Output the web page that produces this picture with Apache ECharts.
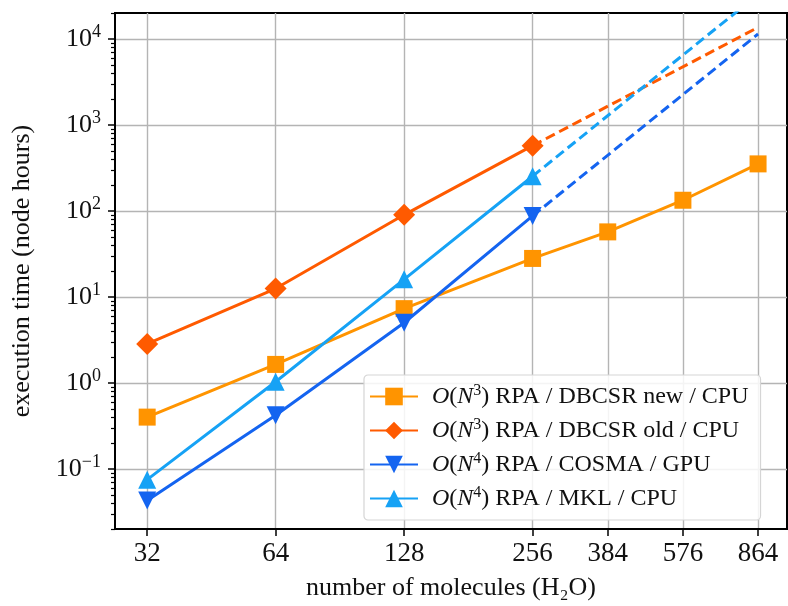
<!DOCTYPE html>
<html>
<head>
<meta charset="utf-8">
<script src="https://cdn.jsdelivr.net/npm/echarts@6/dist/echarts.min.js"></script>
<style>
  html, body { margin: 0; padding: 0; background: #fff; }
  #main { width: 788px; height: 606px; }
</style>
</head>
<body>
<div id="main"></div>
<script>
// molecules (x, log2 axis) and node hours (y, log10 axis)
var sizes = [32, 64, 128, 256, 384, 576, 864];
var dbcsrNew = [0.40, 1.64, 7.3, 28, 57, 133, 352];
var dbcsrOld = [2.84, 12.5, 90, 573];
var cosmaGpu = [0.043, 0.42, 5.0, 87.5];
var mklCpu = [0.075, 1.03, 16, 253];
// dashed extrapolation 256 -> 864
var extX = [256, 864];
var oldExt = [573, 13600];
var cosmaExt = [87.5, 11400];
var mklExt = [253, 32800];

var yMajor = [0.1, 1, 10, 100, 1000, 10000];
var yMinor = [];
for (var k = -2; k <= 4; k++) {
    for (var m = 2; m <= 9; m++) {
        var v = m * Math.pow(10, k);
        if (v >= 0.02 && v <= 20000) yMinor.push(+v.toPrecision(3));
    }
}

var names = [
    '{i|O}(' + '{i|N}{sup|3}) RPA / DBCSR new / CPU',
    '{i|O}(' + '{i|N}{sup|3}) RPA / DBCSR old / CPU',
    '{i|O}(' + '{i|N}{sup|4}) RPA / COSMA / GPU',
    '{i|O}(' + '{i|N}{sup|4}) RPA / MKL / CPU'
];
var colors = ['#ff9400', '#ff5a00', '#1464f0', '#16a2f5'];

function pairs(xs, ys) {
    return ys.map(function (y, i) { return [xs[i], y]; });
}

var font = '"Liberation Serif", "DejaVu Serif", serif';

function solid(i, data, symbol, size, rotate) {
    return {
        name: names[i],
        type: 'line',
        data: data,
        symbol: symbol,
        symbolSize: size,
        symbolRotate: rotate || 0,
        color: colors[i],
        lineStyle: { width: 3, color: colors[i] },
        itemStyle: { color: colors[i] },
        z: 3 + i
    };
}
function dashed(i, data) {
    return {
        name: 'ext' + i,
        type: 'line',
        data: data,
        symbol: 'none',
        silent: true,
        color: colors[i],
        lineStyle: { width: 3, type: [10, 5], color: colors[i] },
        z: 2
    };
}

var myChart = echarts.init(document.getElementById('main'));
var option = {
    animation: false,
    textStyle: { fontFamily: font },
    grid: {
        left: 115, right: 1, top: 13, bottom: 76,
        show: true, borderColor: '#000', borderWidth: 2, backgroundColor: 'transparent'
    },
    legend: {
        data: names,
        orient: 'vertical',
        left: 364,
        top: 375,
        itemWidth: 48,
        itemHeight: 22,
        itemGap: 7,
        padding: [8, 12, 8, 5],
        backgroundColor: 'rgba(255,255,255,0.85)',
        borderColor: '#d5d5d5',
        borderWidth: 1.2,
        borderRadius: 4,
        textStyle: {
            fontFamily: font, fontSize: 24, color: '#111', lineHeight: 22,
            padding: [0, 0, 0, 9],
            rich: {
                i: { fontFamily: font, fontStyle: 'italic', fontSize: 24, lineHeight: 22 },
                sup: { fontFamily: font, fontSize: 16, lineHeight: 22, padding: [0, 0, 11, 0] }
            }
        }
    },
    xAxis: {
        type: 'log',
        logBase: 2,
        min: 26.9,
        max: 1010,
        name: 'number of molecules (H₂O)',
        nameLocation: 'middle',
        nameGap: 46,
        nameTextStyle: { fontFamily: font, fontSize: 26, color: '#111' },
        axisLine: { show: true, lineStyle: { color: '#000', width: 2 } },
        axisTick: { show: true, customValues: sizes, length: 7, lineStyle: { color: '#000', width: 1.5 } },
        axisLabel: {
            customValues: sizes, margin: 11,
            fontFamily: font, fontSize: 27, color: '#111',
            formatter: function (v) { return String(Math.round(v)); }
        },
        splitLine: { show: true, lineStyle: { color: '#b4b4b4', width: 1.4 } },
        minorTick: { show: false }
    },
    yAxis: [{
        type: 'log',
        logBase: 10,
        min: 0.02,
        max: 20000,
        name: 'execution time (node hours)',
        nameLocation: 'middle',
        nameGap: 80,
        nameTextStyle: { fontFamily: font, fontSize: 26, color: '#111' },
        axisLine: { show: true, lineStyle: { color: '#000', width: 2 } },
        axisTick: { show: true, customValues: yMajor, length: 7, lineStyle: { color: '#000', width: 1.5 } },
        axisLabel: {
            customValues: yMajor, margin: 14,
            color: '#111',
            formatter: function (v) {
                var e = Math.round(Math.log10(v));
                return '{b|10}{sup|' + (e < 0 ? '\u2212' + (-e) : e) + '}';
            },
            rich: {
                b: { fontFamily: font, fontSize: 26, color: '#111' },
                sup: { fontFamily: font, fontSize: 18, color: '#111', padding: [0, 0, 14, 0] }
            }
        },
        splitLine: { show: true, lineStyle: { color: '#b4b4b4', width: 1.4 } }
    }, {
        type: 'log',
        logBase: 10,
        min: 0.02,
        max: 20000,
        position: 'left',
        axisLine: { show: false },
        axisTick: { show: true, customValues: yMinor, length: 4, lineStyle: { color: '#000', width: 1.2 } },
        axisLabel: { show: false },
        splitLine: { show: false }
    }],
    series: [
        dashed(1, pairs(extX, oldExt)),
        dashed(2, pairs(extX, cosmaExt)),
        dashed(3, pairs(extX, mklExt)),
        solid(0, pairs(sizes, dbcsrNew), 'rect', 17),
        solid(1, pairs(sizes, dbcsrOld), 'diamond', 22),
        solid(2, pairs(sizes, cosmaGpu), 'triangle', 18, 180),
        solid(3, pairs(sizes, mklCpu), 'triangle', 18)
    ]
};

if (option && typeof option === 'object') {
    myChart.setOption(option);
}
</script>
</body>
</html>
